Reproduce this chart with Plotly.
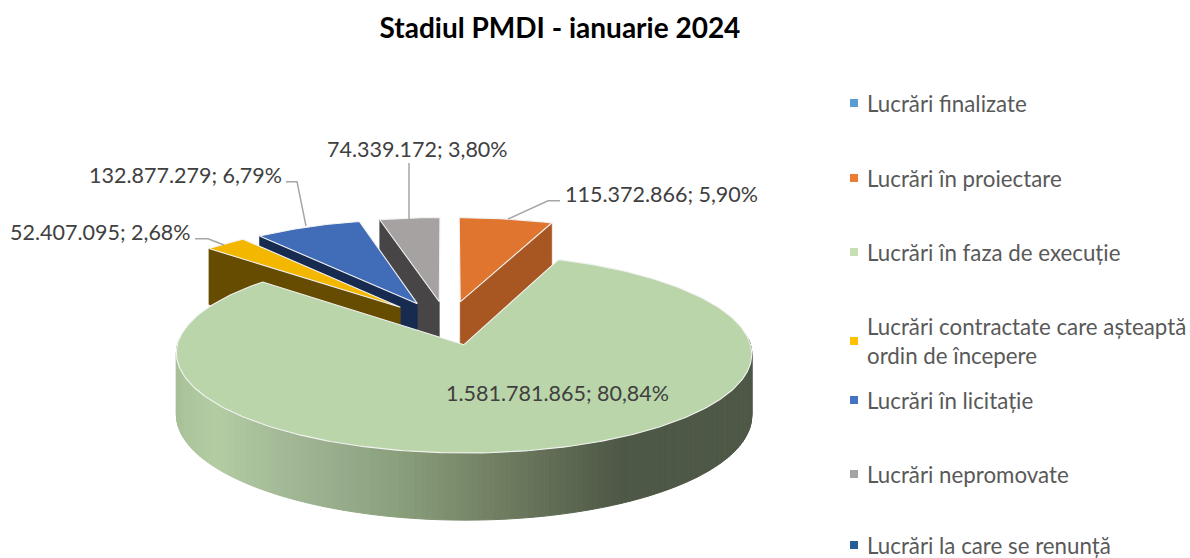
import numpy as np
import plotly.graph_objects as go

# ---- data ----
categories = ["Lucrări finalizate", "Lucrări în proiectare", "Lucrări în faza de execuție",
              "Lucrări contractate care așteaptă<br>ordin de începere", "Lucrări în licitație",
              "Lucrări nepromovate", "Lucrări la care se renunță"]
values = [0, 115372866, 1581781865, 52407095, 132877279, 74339172, 0]
title_text = "Stadiul PMDI - ianuarie 2024"

# ---- style ----
top_colors = ["#5B9BD5", "#E07530", "#BAD5A9", "#F4B700", "#416CB8", "#A5A2A1", "#255E91"]
legend_colors = ["#5B9BD5", "#ED7D31", "#C5E0B4", "#FFC000", "#4472C4", "#A5A5A5", "#255E91"]
wall_colors = ["#3F6F9A", "#A85722", "#4E5846", "#664C00", "#172B50", "#474545", "#1A4368"]
legend_y = [103, 178, 252, 341, 400, 474, 545]
label_pos = {1: (661, 194), 2: (557, 393), 3: (100, 232), 4: (185, 175), 5: (417, 149)}
leaders = {1: [(560, 200.7), (548, 200.7), (508, 219)], 3: [(195, 238.7), (208, 238.7), (224, 245)],
           4: [(286, 181.7), (297, 181.7), (306, 226)], 5: [(409, 163), (409, 219)]}
grad_x = [177, 185, 215, 300, 400, 500, 620, 760]
grad_rgb = [(168, 192, 152), (172, 197, 157), (179, 205, 163), (160, 181, 148), (138, 159, 124),
            (112, 126, 97), (78, 88, 70), (78, 88, 70)]

# ---- projection of the pie ----
CX, CY, A, B, P, EX, EY, H = 447.5, 323, 281, 95, 0.0865, 0.25, 0.23, 60

def proj(X, Y, down=0.0):
    s = 1 / (1 + P * Y)
    return CX + A * X * s, CY - B * Y * s + H * s * down

total = sum(values)
frac = np.array(values) / total
ends = np.cumsum(frac) * 2 * np.pi
starts = ends - frac * 2 * np.pi

def wedge(i):
    a0, a1 = starts[i], ends[i]
    mid = (a0 + a1) / 2
    ox, oy = EX * np.sin(mid), EY * np.cos(mid)
    th = np.linspace(a0, a1, max(int((a1 - a0) * 60), 6))
    return ox, oy, th

def pts(xy):
    return [p[0] for p in xy], [p[1] for p in xy]

fig = go.Figure()

def poly(xy, fill, line=None, lw=1.0):
    x, y = pts(xy)
    fig.add_trace(go.Scatter(x=x + x[:1], y=y + y[:1], mode="lines", fill="toself", fillcolor=fill,
                             line=dict(color=line or fill, width=lw), hoverinfo="skip", showlegend=False))

def top_face(i):
    ox, oy, th = wedge(i)
    xy = [proj(ox, oy)] + [proj(ox + np.sin(t), oy + np.cos(t)) for t in th]
    poly(xy, top_colors[i], "#F2F2F2", 1.1)

def cut_wall(i, angle):
    ox, oy, _ = wedge(i)
    ex, ey = ox + np.sin(angle), oy + np.cos(angle)
    xy = [proj(ox, oy), proj(ex, ey), proj(ex, ey, 1), proj(ox, oy, 1)]
    poly(xy, wall_colors[i], wall_colors[i], 0.6)

# back slices first, front slice last
cut_wall(1, ends[1]); top_face(1)
for i in (5, 4, 3):
    cut_wall(i, starts[i]); top_face(i)

# curved outer wall of the large slice, shaded across its width
ox, oy, _ = wedge(2)
th = np.linspace(np.pi / 2 - 0.06, 1.5 * np.pi + 0.06, 181)
for t0, t1 in zip(th[:-1], th[1:]):
    p0, p1 = (ox + np.sin(t0), oy + np.cos(t0)), (ox + np.sin(t1), oy + np.cos(t1))
    quad = [proj(*p0), proj(*p1), proj(*p1, 1), proj(*p0, 1)]
    xm = (quad[0][0] + quad[1][0]) / 2
    rgb = [np.interp(xm, grad_x, [c[k] for c in grad_rgb]) for k in range(3)]
    col = "rgb(%d,%d,%d)" % tuple(rgb)
    poly(quad, col, col, 1.0)
top_face(2)

# leader lines
for pl in leaders.values():
    x, y = pts(pl)
    fig.add_trace(go.Scatter(x=x, y=y, mode="lines", line=dict(color="#A6A6A6", width=1.5),
                             hoverinfo="skip", showlegend=False))

# data labels
def fmt(v):
    return f"{v:,}".replace(",", ".") + "; " + f"{100 * v / total:.2f}".replace(".", ",") + "%"

for i, (x, y) in label_pos.items():
    fig.add_annotation(x=x, y=y, text=fmt(values[i]), showarrow=False, xref="x", yref="y",
                       font=dict(family="Lato", size=21.5, color="#404040"))

# legend: one real legend per entry so each can sit at its own height
legends = {}
for i, name in enumerate(categories):
    key = "legend" if i == 0 else f"legend{i + 1}"
    fig.add_trace(go.Scatter(x=[-100], y=[-100], mode="markers", name=name, legend=key,
                             marker=dict(symbol="square", size=8, color=legend_colors[i]),
                             hoverinfo="skip", showlegend=True))
    legends[key] = dict(x=827 / 1190, y=1 - legend_y[i] / 558, xanchor="left", yanchor="middle",
                        bgcolor="rgba(0,0,0,0)", borderwidth=0, itemclick=False, itemdoubleclick=False,
                        font=dict(family="Lato", size=22.3, color="#595959"))

fig.update_layout(
    width=1190, height=558, margin=dict(l=0, r=0, t=0, b=0, autoexpand=False),
    paper_bgcolor="white", plot_bgcolor="white",
    title=dict(text=f"<b>{title_text}</b>", x=560 / 1190, xanchor="center", y=1 - 28 / 558, yanchor="middle",
               font=dict(family="Lato", size=28, color="#000000")),
    xaxis=dict(range=[0, 1190], visible=False, fixedrange=True),
    yaxis=dict(range=[558, 0], visible=False, fixedrange=True),
    **legends,
)
fig.write_html("out.html", config={"displayModeBar": False},
               post_script=("document.body.style.margin='0';document.documentElement.style.overflow='hidden';"
                            "document.querySelectorAll('.legendsymbols').forEach(function(g){"
                            "g.setAttribute('transform','translate(7,0)');});"))
